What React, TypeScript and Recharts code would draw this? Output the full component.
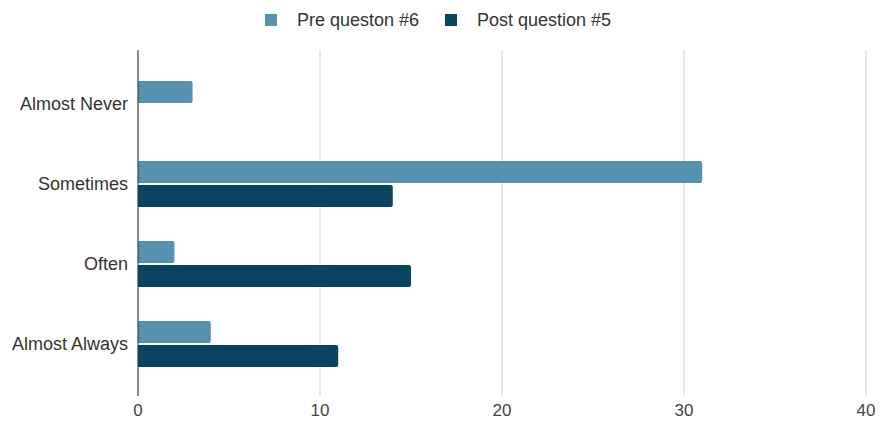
import { BarChart, Bar, XAxis, YAxis, CartesianGrid, Legend } from "recharts";

const categories = ["Almost Never", "Sometimes", "Often", "Almost Always"];
const preValues = [3, 31, 2, 4];
const postValues = [0, 14, 15, 11];
const xTicks = [0, 10, 20, 30, 40];

const PRE_COLOR = "#5891b0";
const POST_COLOR = "#0b4461";
const FONT = "'Liberation Sans', Arial, sans-serif";

const data = categories.map((name, i) => ({
    name,
    pre: preValues[i],
    post: postValues[i],
}));

const legendItems = [
    { label: "Pre queston #6", color: PRE_COLOR },
    { label: "Post question #5", color: POST_COLOR },
];

const ChartLegend = () => (
    <div
        style={{
            display: "flex",
            justifyContent: "center",
            alignItems: "center",
            fontFamily: FONT,
            fontSize: 18,
            lineHeight: "20px",
            color: "#333",
            paddingLeft: 10,
        }}
    >
        {legendItems.map((item, i) => (
            <div
                key={item.label}
                style={{
                    display: "flex",
                    alignItems: "center",
                    marginLeft: i === 0 ? 0 : 26,
                }}
            >
                <span
                    style={{
                        width: 12,
                        height: 12,
                        background: item.color,
                        display: "inline-block",
                        marginRight: 20,
                    }}
                />
                <span>{item.label}</span>
            </div>
        ))}
    </div>
);

const App = () => {
    return (
        <div style={{ position: "absolute", left: 0, top: 0, background: "#fff" }}>
            <BarChart
                width={881}
                height={426}
                data={data}
                layout="vertical"
                margin={{ top: 30, right: 15, left: 0, bottom: 0 }}
                barGap={2}
                barSize={22}
            >
                <CartesianGrid horizontal={false} stroke="#d0d0d0" />
                <XAxis
                    type="number"
                    domain={[0, 40]}
                    ticks={xTicks}
                    axisLine={false}
                    tickLine={false}
                    height={30}
                    tick={{ fill: "#444", fontSize: 17, fontFamily: FONT }}
                />
                <YAxis
                    type="category"
                    dataKey="name"
                    width={138}
                    tickLine={false}
                    tickMargin={4}
                    axisLine={{ stroke: "#333" }}
                    padding={{ top: 14, bottom: 12 }}
                    tick={{ fill: "#333", fontSize: 18, fontFamily: FONT }}
                />
                <Legend
                    verticalAlign="top"
                    height={20}
                    wrapperStyle={{ top: 10 }}
                    content={() => <ChartLegend />}
                />
                <Bar
                    dataKey="pre"
                    name="Pre queston #6"
                    fill={PRE_COLOR}
                    radius={[0, 2, 2, 0]}
                    isAnimationActive={false}
                />
                <Bar
                    dataKey="post"
                    name="Post question #5"
                    fill={POST_COLOR}
                    radius={[0, 2, 2, 0]}
                    isAnimationActive={false}
                />
            </BarChart>
        </div>
    );
};

export default App;
